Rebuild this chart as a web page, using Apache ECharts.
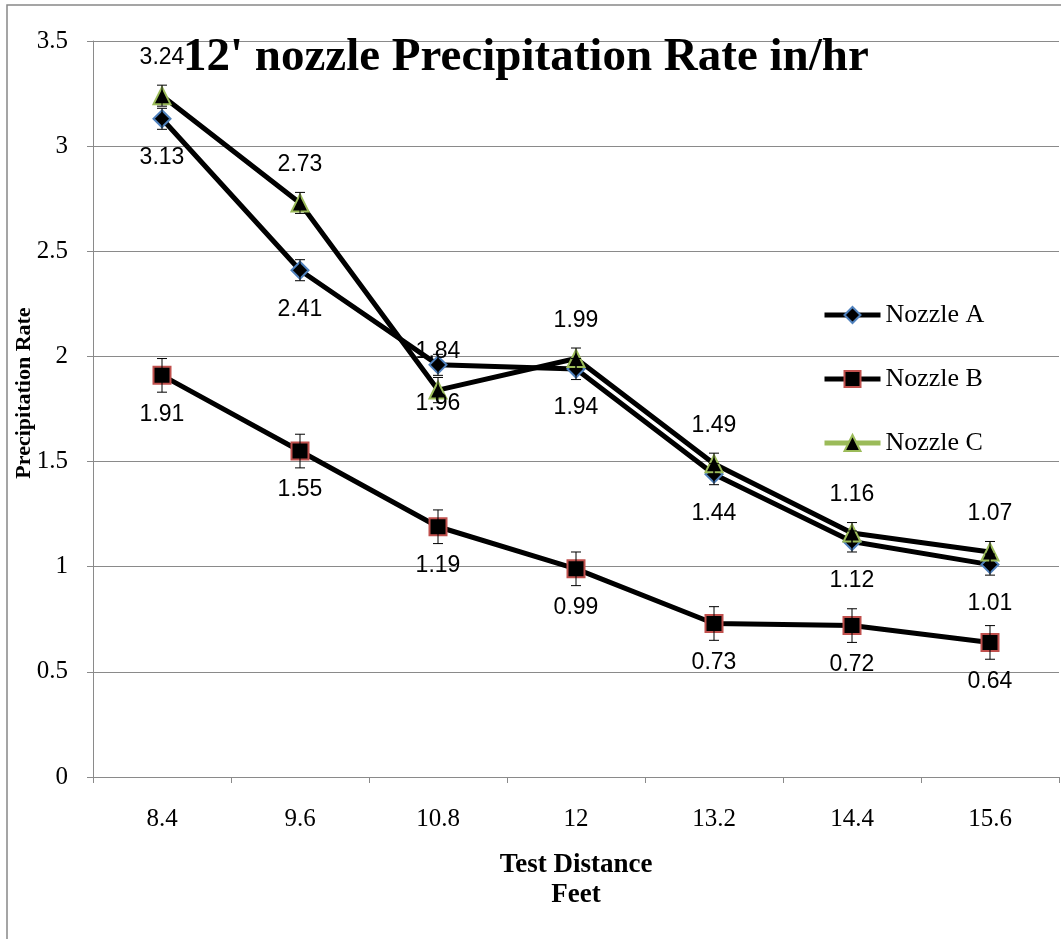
<!DOCTYPE html>
<html>
<head>
<meta charset="utf-8">
<title>12' nozzle Precipitation Rate in/hr</title>
<script src="https://cdn.jsdelivr.net/npm/echarts@6/dist/echarts.min.js"></script>
<style>
  html, body { margin: 0; padding: 0; background: #fff; }
  #chart { width: 1061px; height: 939px; }
</style>
</head>
<body>
<div id="chart"></div>
<script>
// test distances (feet)
const distances = ['8.4', '9.6', '10.8', '12', '13.2', '14.4', '15.6']

// precipitation rate in/hr
const nozzleA = [3.13, 2.41, 1.96, 1.94, 1.44, 1.12, 1.01]
const nozzleB = [1.91, 1.55, 1.19, 0.99, 0.73, 0.72, 0.64]
const nozzleC = [3.24, 2.73, 1.84, 1.99, 1.49, 1.16, 1.07]

// error bar half-heights (estimated)
const errA = [0.05, 0.05, 0.05, 0.05, 0.05, 0.05, 0.05]
const errB = [0.08, 0.08, 0.08, 0.08, 0.08, 0.08, 0.08]
const errC = [0.05, 0.05, 0.06, 0.05, 0.05, 0.05, 0.05]

const yTicks = [0, 0.5, 1, 1.5, 2, 2.5, 3, 3.5]

const serif = 'Liberation Serif'
const sans = 'Liberation Sans'
const gridColor = '#8a8a8a'

const chart = echarts.init(document.getElementById('chart'))

const lineSeries = (name, values, symbol, borderColor, labelDy) => ({
  name,
  type: 'line',
  data: values,
  symbol,
  symbolSize: 17,
  showAllSymbol: true,
  lineStyle: { color: '#000', width: 5 },
  itemStyle: { color: '#000', borderColor, borderWidth: 2 },
  label: {
    show: true,
    position: 'inside',
    offset: [0, labelDy],
    color: '#000',
    fontFamily: sans,
    fontSize: 23,
    formatter: (p) => p.value.toFixed(2),
  },
  emphasis: { disabled: true },
  z: 3,
})

// thin black error bars with small caps
const errorSeries = (values, errs) => ({
  type: 'custom',
  silent: true,
  z: 4,
  data: values.map((v, i) => [i, v, errs[i]]),
  renderItem: (params, api) => {
    const i = api.value(0)
    const v = api.value(1)
    const e = api.value(2)
    const hi = api.coord([i, v + e])
    const lo = api.coord([i, v - e])
    const w = 5
    const style = { stroke: '#000', lineWidth: 1 }
    return {
      type: 'group',
      children: [
        { type: 'line', shape: { x1: hi[0], y1: hi[1], x2: lo[0], y2: lo[1] }, style },
        { type: 'line', shape: { x1: hi[0] - w, y1: hi[1], x2: hi[0] + w, y2: hi[1] }, style },
        { type: 'line', shape: { x1: lo[0] - w, y1: lo[1], x2: lo[0] + w, y2: lo[1] }, style },
      ],
    }
  },
})

const option = {
  animation: false,
  backgroundColor: '#fff',
  title: {
    text: "12' nozzle Precipitation Rate in/hr",
    left: 183,
    top: 34,
    padding: 0,
    textStyle: { fontFamily: serif, fontSize: 47, fontWeight: 'bold', color: '#000' },
  },
  legend: {
    orient: 'vertical',
    left: 817,
    top: 297,
    itemWidth: 56,
    itemHeight: 20,
    itemGap: 38,
    textStyle: { fontFamily: serif, fontSize: 26, color: '#000' },
    data: [
      { name: 'Nozzle A', lineStyle: { width: 5 } },
      { name: 'Nozzle B', lineStyle: { width: 5 } },
      { name: 'Nozzle C', lineStyle: { width: 5, color: '#9bbb59' } },
    ],
  },
  graphic: [
    {
      type: 'rect',
      silent: true,
      shape: { x: 7, y: 5, width: 1200, height: 1100 },
      style: { fill: 'none', stroke: '#888', lineWidth: 1.5 },
    },
  ],
  grid: { left: 93, top: 41, right: 2, bottom: 162, outerBoundsMode: 'none' },
  xAxis: {
    type: 'category',
    data: distances,
    boundaryGap: true,
    name: 'Test Distance\nFeet',
    nameLocation: 'middle',
    nameGap: 73,
    nameMoveOverlap: false,
    nameTextStyle: { fontFamily: serif, fontSize: 27, fontWeight: 'bold', color: '#000', lineHeight: 30 },
    axisLine: { lineStyle: { color: gridColor, width: 1 } },
    axisTick: { show: true, length: 6, lineStyle: { color: gridColor } },
    axisLabel: { fontFamily: serif, fontSize: 25, color: '#000', margin: 30 },
    splitLine: { show: false },
  },
  yAxis: {
    type: 'value',
    min: yTicks[0],
    max: yTicks[yTicks.length - 1],
    interval: 0.5,
    name: 'Precipitation Rate',
    nameLocation: 'middle',
    nameGap: 58,
    nameMoveOverlap: false,
    nameTextStyle: { fontFamily: serif, fontSize: 22, fontWeight: 'bold', color: '#000', padding: [0, 0, 0, 32] },
    axisLine: { show: true, lineStyle: { color: gridColor, width: 1 } },
    axisTick: { show: true, length: 6, lineStyle: { color: gridColor } },
    axisLabel: { fontFamily: serif, fontSize: 25, color: '#000', margin: 25 },
    splitLine: { show: true, lineStyle: { color: gridColor, width: 1 } },
  },
  series: [
    lineSeries('Nozzle A', nozzleA, 'diamond', '#4f81bd', 39),
    lineSeries('Nozzle B', nozzleB, 'rect', '#c0504d', 39),
    lineSeries('Nozzle C', nozzleC, 'triangle', '#9bbb59', -38),
    errorSeries(nozzleA, errA),
    errorSeries(nozzleB, errB),
    errorSeries(nozzleC, errC),
  ],
}

chart.setOption(option)
window.addEventListener('resize', () => chart.resize())
</script>
</body>
</html>
